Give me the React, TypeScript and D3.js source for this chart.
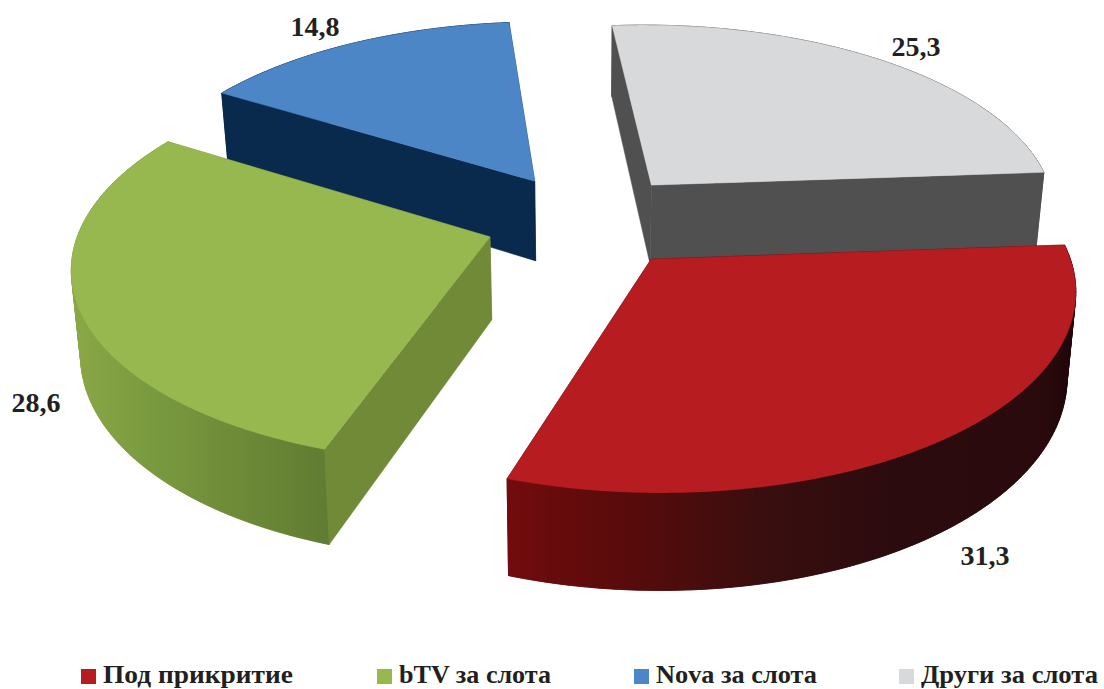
import React from "react";
import * as d3 from "d3";

const categories = ["Под прикритие", "bTV за слота", "Nova за слота", "Други за слота"];
const values = [31.3, 28.6, 14.8, 25.3];
const valueLabels = ["31,3", "28,6", "14,8", "25,3"];
const topColors = ["#b71c21", "#97b84f", "#4d86c6", "#d8d9da"];
const wallColors = ["#3a0a0c", "#718a38", "#0a2a4d", "#505050"];
const sideRamps = [
  ["#720b0e", "#5a0b0b", "#3a0e0e", "#2b0b0e", "#2b0a0d", "#1e0508"],
  ["#8aa846", "#7a9a3f", "#668234", "#5f7c33"],
  ["#0a2a4d", "#0a2a4d"],
  ["#505050", "#505050"],
];
const rampDomains = [
  [507, 620, 760, 900, 1040, 1076],
  [70, 150, 290, 329],
  [200, 540],
  [600, 1050],
];
const labelPos = [[985, 565], [36, 412], [315, 36], [916, 56]];
const legendX = [81, 377, 634, 899];
const legendW = [190, 152, 161, 177];

const W = 1104, H = 689;
const cx = 587, cy = 220.5, Rx = 408, Ry = 190.5, persp = 0.135, depth = 82, explode = 0.25, startDeg = 85.9;

type P = [number, number];
function project(u: number, v: number, low: boolean): P {
  const w = 1 - persp * v;
  const x = (Rx * u) / w;
  const y = (Ry * v) / w + (low ? depth / w : 0);
  return [cx + x * (low ? 0.982 : 1), cy + y];
}

const pieGen = d3.pie<number>().sort(null).startAngle((startDeg * Math.PI) / 180).endAngle((startDeg * Math.PI) / 180 + 2 * Math.PI);
const arcs = pieGen(values);
const line = d3.line<P>().curve(d3.curveLinearClosed);

function Slice({ i }: { i: number }) {
  const a = arcs[i];
  const mid = (a.startAngle + a.endAngle) / 2;
  const ox = explode * Math.sin(mid), oy = -explode * Math.cos(mid);
  const N = 120;
  const ang = d3.range(N + 1).map((k) => a.startAngle + ((a.endAngle - a.startAngle) * k) / N);
  const ring = (low: boolean) => ang.map((t) => project(ox + Math.sin(t), oy - Math.cos(t), low));
  const apexT = project(ox, oy, false), apexB = project(ox, oy, true);
  const top = ring(false), bot = ring(true);
  const faces: { y: number; el: React.ReactNode }[] = [];
  const wall = (t: P, b: P, key: string) => {
    faces.push({
      y: (apexT[1] + t[1]) / 2,
      el: <path key={key} d={line([apexT, t, b, apexB])!} fill={wallColors[i]} stroke={wallColors[i]} strokeWidth={0.5} />,
    });
  };
  wall(top[0], bot[0], "s");
  wall(top[N], bot[N], "e");
  const gid = `side${i}`;
  const [d0, d1] = [rampDomains[i][0], rampDomains[i][rampDomains[i].length - 1]];
  const midPt = top[N / 2];
  faces.push({
    y: midPt[1],
    el: (
      <g key="o" fill={`url(#${gid})`}>
        {d3.range(N).map((k) => (
          <path key={k} d={line([top[k], top[k + 1], bot[k + 1], bot[k]])!} stroke={`url(#${gid})`} strokeWidth={0.6} />
        ))}
        <path d={line([...top, ...bot.slice().reverse()])!} stroke={`url(#${gid})`} strokeWidth={0.6} />
      </g>
    ),
  });
  faces.sort((p, q) => p.y - q.y);
  return (
    <g>
      <defs>
        <linearGradient id={gid} gradientUnits="userSpaceOnUse" x1={d0} x2={d1} y1={0} y2={0}>
          {rampDomains[i].map((d, k) => (
            <stop key={k} offset={(d - d0) / (d1 - d0)} stopColor={sideRamps[i][k]} />
          ))}
        </linearGradient>
      </defs>
      {faces.map((f) => f.el)}
      <path d={line([apexT, ...top])!} fill={topColors[i]} stroke={topColors[i]} strokeWidth={0.5} />
    </g>
  );
}

const font = "'Liberation Serif', serif";

export default function App() {
  return (
    <svg width={W} height={H} style={{ position: "absolute", left: 0, top: 0, background: "#fff" }}>
      {[3, 2, 1, 0].map((i) => <Slice key={i} i={i} />)}
      {valueLabels.map((t, i) => (
        <text key={t} x={labelPos[i][0]} y={labelPos[i][1]} textAnchor="middle" fontFamily={font} fontWeight="bold" fontSize={28} fill="#231f20">{t}</text>
      ))}
      {categories.map((c, i) => (
        <g key={c}>
          <rect x={legendX[i]} y={669} width={15} height={15} fill={topColors[i]} />
          <text x={legendX[i] + 22} y={683} fontFamily={font} fontWeight="bold" fontSize={25} fill="#231f20" textLength={legendW[i]} lengthAdjust="spacingAndGlyphs">{c}</text>
        </g>
      ))}
    </svg>
  );
}
